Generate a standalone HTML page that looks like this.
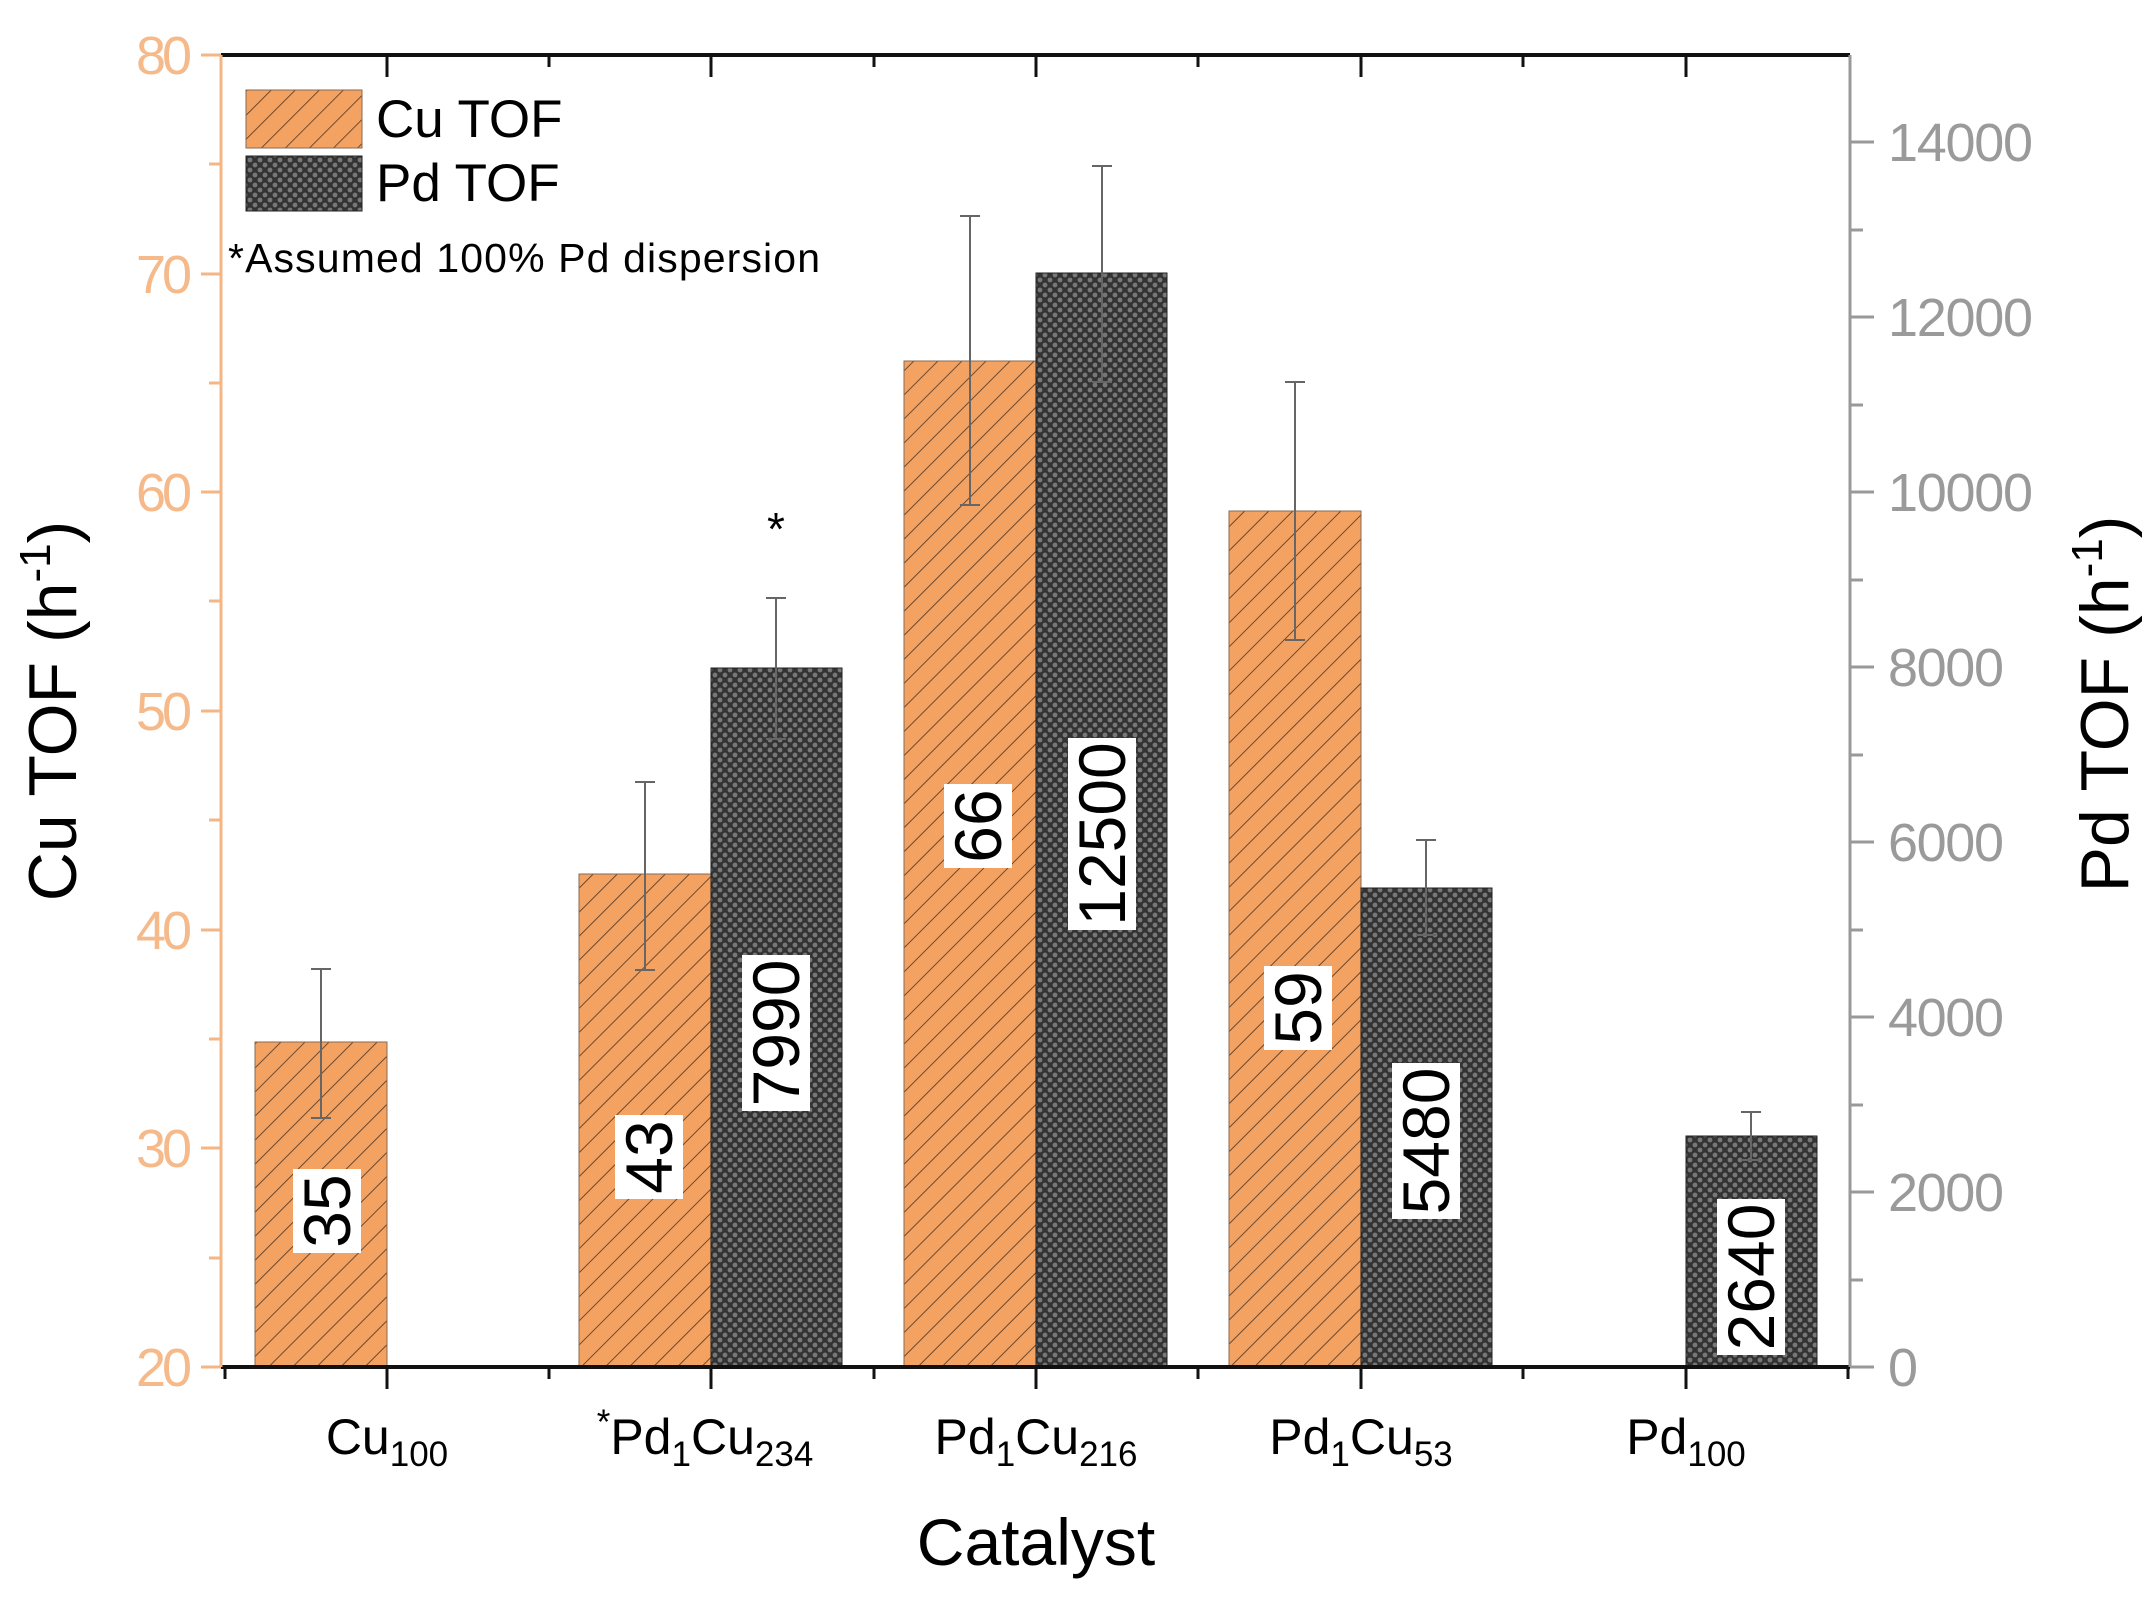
<!DOCTYPE html>
<html><head><meta charset="utf-8"><style>html,body{margin:0;padding:0;background:#fff}svg{display:block}text{font-family:"Liberation Sans",Arial,sans-serif}</style></head><body>
<svg width="2154" height="1609" viewBox="0 0 2154 1609" xmlns="http://www.w3.org/2000/svg">
<defs>
<pattern id="hatch" patternUnits="userSpaceOnUse" width="17" height="17" patternTransform="rotate(45)">
<rect width="17" height="17" fill="#f4a262"/>
<line x1="0" y1="0" x2="0" y2="17" stroke="#6b4a30" stroke-width="2"/>
</pattern>
<pattern id="cross" patternUnits="userSpaceOnUse" width="10" height="10">
<rect width="10" height="10" fill="#333"/>
<circle cx="5" cy="5" r="2.4" fill="#777"/>
<circle cx="0" cy="0" r="2.4" fill="#777"/><circle cx="10" cy="0" r="2.4" fill="#777"/>
<circle cx="0" cy="10" r="2.4" fill="#777"/><circle cx="10" cy="10" r="2.4" fill="#777"/>
</pattern>
</defs>
<rect x="255" y="1042" width="132" height="325" fill="url(#hatch)" stroke="#8a6a50" stroke-width="1"/>
<rect x="579" y="874" width="132" height="493" fill="url(#hatch)" stroke="#8a6a50" stroke-width="1"/>
<rect x="904" y="361" width="132" height="1006" fill="url(#hatch)" stroke="#8a6a50" stroke-width="1"/>
<rect x="1229" y="511" width="132" height="856" fill="url(#hatch)" stroke="#8a6a50" stroke-width="1"/>
<rect x="711" y="668" width="131" height="699" fill="url(#cross)" stroke="#222" stroke-width="1"/>
<rect x="1036" y="273" width="131" height="1094" fill="url(#cross)" stroke="#222" stroke-width="1"/>
<rect x="1361" y="888" width="131" height="479" fill="url(#cross)" stroke="#222" stroke-width="1"/>
<rect x="1686" y="1136" width="131" height="231" fill="url(#cross)" stroke="#222" stroke-width="1"/>
<g stroke="#666" stroke-width="2" fill="none">
<path d="M321 969V1118M311 969h20M311 1118h20"/>
<path d="M645 782V970M635 782h20M635 970h20"/>
<path d="M776 598V739M766 598h20M766 739h20"/>
<path d="M970 216V505M960 216h20M960 505h20"/>
<path d="M1102 166V382M1092 166h20M1092 382h20"/>
<path d="M1295 382V640M1285 382h20M1285 640h20"/>
<path d="M1426 840V935M1416 840h20M1416 935h20"/>
<path d="M1751 1112V1160M1741 1112h20M1741 1160h20"/>
</g>
<g font-size="66" text-anchor="middle">
<g transform="translate(327,1211) rotate(-90)"><rect x="-42" y="-34" width="84" height="68" fill="#fff"/><text y="23">35</text></g>
<g transform="translate(649,1157) rotate(-90)"><rect x="-42" y="-34" width="84" height="68" fill="#fff"/><text y="23">43</text></g>
<g transform="translate(776,1033) rotate(-90)"><rect x="-78" y="-34" width="156" height="68" fill="#fff"/><text y="23">7990</text></g>
<g transform="translate(978,826) rotate(-90)"><rect x="-42" y="-34" width="84" height="68" fill="#fff"/><text y="23">66</text></g>
<g transform="translate(1102,834) rotate(-90)"><rect x="-96" y="-34" width="192" height="68" fill="#fff"/><text y="23">12500</text></g>
<g transform="translate(1298,1008) rotate(-90)"><rect x="-42" y="-34" width="84" height="68" fill="#fff"/><text y="23">59</text></g>
<g transform="translate(1426,1141) rotate(-90)"><rect x="-78" y="-34" width="156" height="68" fill="#fff"/><text y="23">5480</text></g>
<g transform="translate(1751,1277) rotate(-90)"><rect x="-78" y="-34" width="156" height="68" fill="#fff"/><text y="23">2640</text></g>
</g>
<text x="776" y="545" font-size="46" text-anchor="middle">*</text>
<line x1="221" y1="55" x2="1850" y2="55" stroke="#111" stroke-width="4"/>
<line x1="221" y1="1367" x2="1850" y2="1367" stroke="#111" stroke-width="4"/>
<line x1="221" y1="55" x2="221" y2="1367" stroke="#f3b684" stroke-width="3"/>
<line x1="1850" y1="55" x2="1850" y2="1367" stroke="#999" stroke-width="3"/>
<g stroke="#111" stroke-width="3">
<path d="M387 1367v22M711 1367v22M1036 1367v22M1361 1367v22M1686 1367v22"/>
<path d="M225 1367v12M549 1367v12M874 1367v12M1198 1367v12M1523 1367v12M1848 1367v12"/>
<path d="M387 55v22M711 55v22M1036 55v22M1361 55v22M1686 55v22"/>
<path d="M549 55v12M874 55v12M1198 55v12M1523 55v12"/>
</g>
<g stroke="#f3b684" stroke-width="3">
<path d="M201 55h20M201 274h20M201 492h20M201 711h20M201 930h20M201 1148h20M201 1367h20"/>
<path d="M209 164h12M209 383h12M209 601h12M209 820h12M209 1039h12M209 1258h12"/>
</g>
<g fill="#f5b98a" font-size="54" text-anchor="end">
<text x="192" y="74" textLength="56">80</text><text x="192" y="293" textLength="56">70</text><text x="192" y="511" textLength="56">60</text>
<text x="192" y="730" textLength="56">50</text><text x="192" y="949" textLength="56">40</text><text x="192" y="1167" textLength="56">30</text><text x="192" y="1386" textLength="56">20</text>
</g>
<g stroke="#999" stroke-width="3">
<path d="M1850 1367h24M1850 1192h24M1850 1017h24M1850 842h24M1850 667h24M1850 492h24M1850 317h24M1850 142h24"/>
<path d="M1850 1280h13M1850 1105h13M1850 930h13M1850 755h13M1850 580h13M1850 405h13M1850 230h13"/>
</g>
<g fill="#9a9a9a" font-size="54">
<text x="1888" y="1386" textLength="29">0</text><text x="1888" y="1211" textLength="116">2000</text><text x="1888" y="1036" textLength="116">4000</text>
<text x="1888" y="861" textLength="116">6000</text><text x="1888" y="686" textLength="116">8000</text><text x="1888" y="511" textLength="145">10000</text>
<text x="1888" y="336" textLength="145">12000</text><text x="1888" y="161" textLength="145">14000</text>
</g>
<g font-size="50" text-anchor="middle">
<text x="387" y="1454">Cu<tspan font-size="35" dy="12">100</tspan></text>
<text x="705" y="1454"><tspan font-size="35" dy="-20">*</tspan><tspan dy="20">Pd</tspan><tspan font-size="35" dy="12">1</tspan><tspan dy="-12">Cu</tspan><tspan font-size="35" dy="12">234</tspan></text>
<text x="1036" y="1454">Pd<tspan font-size="35" dy="12">1</tspan><tspan dy="-12">Cu</tspan><tspan font-size="35" dy="12">216</tspan></text>
<text x="1361" y="1454">Pd<tspan font-size="35" dy="12">1</tspan><tspan dy="-12">Cu</tspan><tspan font-size="35" dy="12">53</tspan></text>
<text x="1686" y="1454">Pd<tspan font-size="35" dy="12">100</tspan></text>
</g>
<text x="1036" y="1565" font-size="66" text-anchor="middle">Catalyst</text>
<text transform="translate(76,711) rotate(-90)" font-size="68" text-anchor="middle">Cu TOF (h<tspan font-size="44" dy="-26">-1</tspan><tspan dy="26">)</tspan></text>
<text transform="translate(2128,704) rotate(-90)" font-size="68" text-anchor="middle">Pd TOF (h<tspan font-size="44" dy="-26">-1</tspan><tspan dy="26">)</tspan></text>
<rect x="246" y="90" width="116" height="58" fill="url(#hatch)" stroke="#8a6a50"/>
<rect x="246" y="156" width="116" height="55" fill="url(#cross)" stroke="#222"/>
<text x="376" y="137" font-size="53">Cu TOF</text>
<text x="376" y="201" font-size="53">Pd TOF</text>
<text x="228" y="272" font-size="41" textLength="592">*Assumed 100% Pd dispersion</text>
</svg>
</body></html>
